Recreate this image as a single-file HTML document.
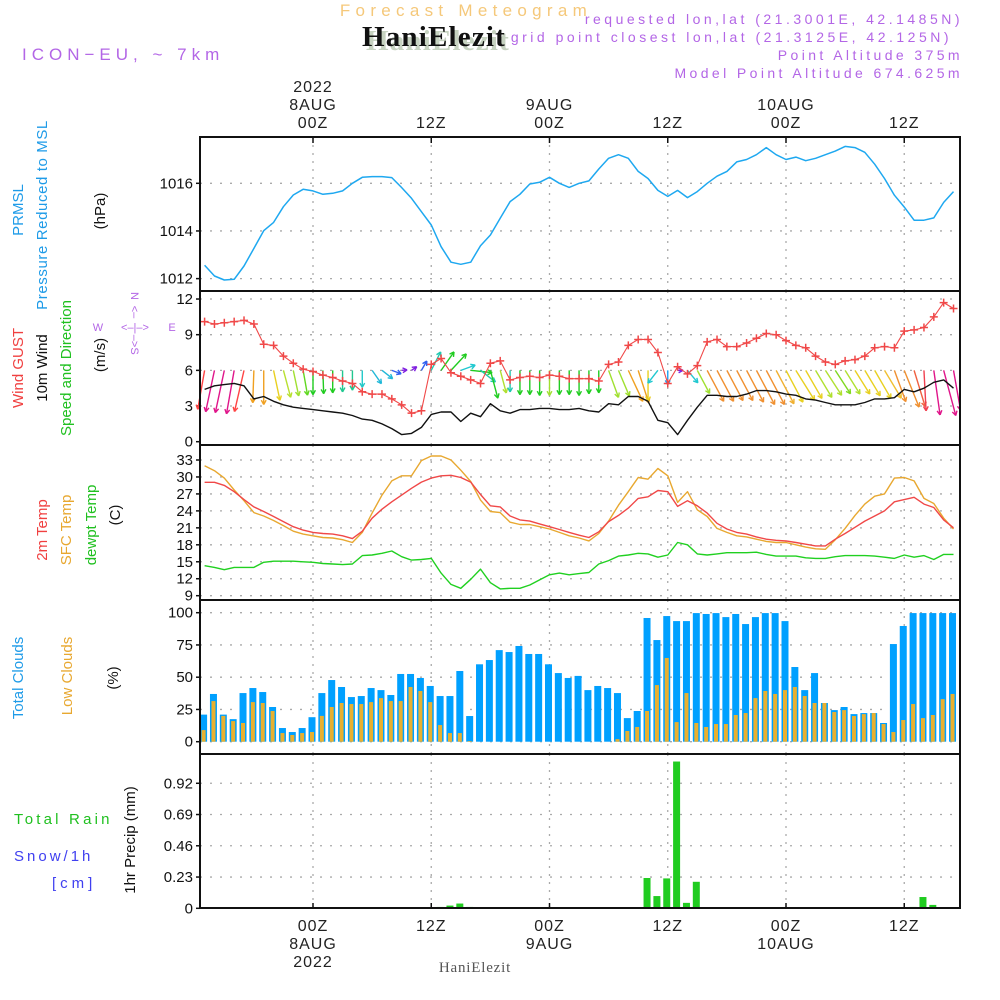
<!DOCTYPE html>
<html><head><meta charset="utf-8"><style>
html,body{margin:0;padding:0;background:#fff;}
svg{display:block;font-family:"Liberation Sans",sans-serif;}
</style></head><body>
<svg id="chart" width="1000" height="1000" viewBox="0 0 1000 1000" xmlns="http://www.w3.org/2000/svg">
<rect x="0" y="0" width="1000" height="1000" fill="#fff"/>
<g id="headers">
<text x="466" y="16" font-size="17" fill="#f5c87a" letter-spacing="5.3" text-anchor="middle">Forecast Meteogram</text>
<text x="438" y="50" font-family="Liberation Serif,serif" font-weight="bold" font-size="29" fill="#c6d2c0" letter-spacing="1.2" text-anchor="middle">HaniElezit</text>
<text x="434" y="46" font-family="Liberation Serif,serif" font-weight="bold" font-size="29" fill="#111" letter-spacing="1.2" text-anchor="middle">HaniElezit</text>
<text x="22" y="60" font-size="17" fill="#b366e6" letter-spacing="5">ICON−EU, ~ 7km</text>
<text x="963" y="24" font-size="14" fill="#b366e6" letter-spacing="3.5" text-anchor="end">requested lon,lat (21.3001E, 42.1485N)</text>
<text x="952" y="42" font-size="14" fill="#b366e6" letter-spacing="3.5" text-anchor="end">grid point closest lon,lat (21.3125E, 42.125N)</text>
<text x="963" y="60" font-size="14" fill="#b366e6" letter-spacing="3.4" text-anchor="end">Point Altitude 375m</text>
<text x="963" y="78" font-size="14" fill="#b366e6" letter-spacing="3.4" text-anchor="end">Model Point Altitude 674.625m</text>
<text x="475" y="972" font-family="Liberation Serif,serif" font-size="15" fill="#555" text-anchor="middle" letter-spacing="0.8">HaniElezit</text>
<text transform="translate(982,700) rotate(-90)" font-family="Liberation Serif,serif" font-size="15" fill="#ddd" text-anchor="middle">by Angel</text>
</g>
<g id="leftLabels" font-size="15">
<text transform="translate(23,210) rotate(-90)" fill="#1e9be8" text-anchor="middle">PRMSL</text>
<text transform="translate(47,215) rotate(-90)" fill="#1e9be8" text-anchor="middle" letter-spacing="0.6">Pressure Reduced to MSL</text>
<text transform="translate(105,211) rotate(-90)" fill="#111" text-anchor="middle">(hPa)</text>
<text transform="translate(23,368) rotate(-90)" fill="#f04040" text-anchor="middle">Wind GUST</text>
<text transform="translate(47,368) rotate(-90)" fill="#111" text-anchor="middle">10m Wind</text>
<text transform="translate(71,368) rotate(-90)" fill="#20c020" text-anchor="middle">Speed and Direction</text>
<text transform="translate(105,355) rotate(-90)" fill="#111" text-anchor="middle">(m/s)</text>
<g fill="#b366e6" font-size="11" text-anchor="middle">
<text x="135" y="300" transform="rotate(90,135,296)">N</text>
<text x="135" y="355" transform="rotate(90,135,351)">S</text>
<text x="98" y="331">W</text>
<text x="172" y="331">E</text>
<text x="135" y="331" font-size="11">&lt;‒|‒&gt;</text>
<text x="135" y="316" transform="rotate(90,135,312)">&lt;‒</text>
<text x="135" y="345" transform="rotate(90,135,341)">‒&gt;</text>
</g>
<text transform="translate(47,530) rotate(-90)" fill="#f04040" text-anchor="middle">2m Temp</text>
<text transform="translate(71,530) rotate(-90)" fill="#e8a830" text-anchor="middle">SFC Temp</text>
<text transform="translate(96,525) rotate(-90)" fill="#20c020" text-anchor="middle">dewpt Temp</text>
<text transform="translate(120,515) rotate(-90)" fill="#111" text-anchor="middle">(C)</text>
<text transform="translate(23,678) rotate(-90)" fill="#1e9be8" text-anchor="middle">Total Clouds</text>
<text transform="translate(72,676) rotate(-90)" fill="#e8a830" text-anchor="middle">Low Clouds</text>
<text transform="translate(118,678) rotate(-90)" fill="#111" text-anchor="middle">(%)</text>
<text x="14" y="824" fill="#20c020" letter-spacing="3.2">Total  Rain</text>
<text x="14" y="861" fill="#4040f0" letter-spacing="3">Snow/1h</text>
<text x="52" y="888" fill="#4040f0" letter-spacing="4">[cm]</text>
<text transform="translate(135,840) rotate(-90)" fill="#111" text-anchor="middle">1hr Precip (mm)</text>
</g>
<g id="plot"></g>
</svg>
<script>
// ---------- data (hourly, hour offsets from 00Z 8AUG) ----------
const hourStart = -11;
const pressure = [1012.56,1012.11,1011.94,1011.97,1012.53,1013.27,1014.01,1014.36,1015.02,1015.51,1015.75,1015.68,1015.54,1015.58,1015.68,1016.0,1016.25,1016.28,1016.28,1016.24,1015.82,1015.37,1014.81,1014.25,1013.34,1012.69,1012.6,1012.69,1013.38,1013.83,1014.53,1015.23,1015.54,1015.97,1016.04,1016.25,1016.0,1015.83,1016.0,1016.1,1016.6,1017.05,1017.2,1017.05,1016.5,1016.2,1015.7,1015.45,1015.7,1015.4,1015.65,1016.0,1016.3,1016.5,1016.9,1017.0,1017.2,1017.5,1017.2,1017.0,1017.1,1016.95,1017.05,1017.2,1017.35,1017.55,1017.5,1017.3,1016.8,1016.2,1015.5,1015.0,1014.45,1014.45,1014.55,1015.2,1015.65];
const windGust = [10.1,9.9,10.0,10.1,10.2,9.9,8.2,8.1,7.2,6.6,6.1,5.9,5.6,5.4,5.1,4.9,4.2,4.0,4.0,3.6,3.1,2.4,2.6,6.5,7.0,5.8,5.5,5.2,4.9,6.6,6.8,5.2,5.4,5.5,5.4,5.6,5.5,5.3,5.3,5.3,5.1,6.5,6.7,8.1,8.6,8.6,7.5,4.9,6.3,5.7,6.4,8.4,8.6,8.0,8.0,8.3,8.7,9.1,9.0,8.5,8.1,7.9,7.2,6.7,6.5,6.8,6.9,7.2,7.9,8.0,7.9,9.3,9.4,9.6,10.5,11.7,11.2];
const windSpeed = [4.4,4.7,4.8,4.9,4.7,3.6,3.8,3.4,3.1,2.9,2.8,2.7,2.6,2.5,2.4,2.2,1.9,1.8,1.5,1.1,0.6,0.7,1.2,2.3,2.5,2.5,1.7,2.4,2.1,3.2,2.6,2.4,2.7,2.7,2.8,2.8,2.7,2.7,2.8,2.6,2.5,3.2,3.1,3.8,3.8,3.4,1.8,1.6,0.6,1.8,2.9,3.9,3.9,3.8,3.8,4.0,4.3,4.3,4.2,4.0,3.9,3.6,3.5,3.3,3.1,3.1,3.1,3.3,3.6,3.6,3.7,4.4,4.2,4.5,5.0,5.2,4.5];
const windToDir = [190,192,192,190,193,182,180,168,165,168,170,180,178,180,180,180,180,145,128,110,85,55,30,27,35,43,70,96,128,165,165,180,180,180,180,180,180,180,180,180,180,160,157,155,162,180,218,180,90,140,152,152,152,152,152,152,152,152,152,152,148,150,149,147,147,148,148,149,150,149,160,158,163,177,172,165,170];
const windColors = ["#f44","#e0158a","#e0158a","#e0158a","#f44","#f0a020","#f0a020","#e8d020","#b8e030","#a0e030","#60d820","#20cc20","#20cc20","#20cc20","#20c890","#20c890","#20c8c8","#20b8d8","#20b8d8","#3060f0","#8020e0","#8020e0","#3060f0","#20c8b0","#20cc20","#20cc20","#20c8d0","#20cc20","#20c8b0","#20cc20","#b0e030","#20c8b0","#20cc20","#20cc20","#20cc20","#a0e030","#20cc20","#20cc20","#20cc20","#20cc20","#20cc20","#a0e030","#a0e030","#f0a020","#f0a020","#e8d020","#20c8d0","#20a0f0","#8020e0","#20c8d0","#a0e030","#f09030","#f09030","#f09030","#f09030","#f09030","#f09030","#f09030","#f0b030","#e8d020","#e8d020","#e8d020","#b0e030","#b0e030","#80d820","#b0e030","#e8d020","#e8d020","#e8d020","#f0c030","#f09030","#f09030","#f06040","#f04050","#e0158a","#e0158a","#e0158a"];
const temp2m = [29.05,29.05,28.5,27.4,26.0,24.7,23.9,23.0,22.1,21.2,20.6,20.2,20.0,19.9,19.6,19.1,20.4,22.7,24.3,25.6,26.8,28.0,29.1,29.8,30.2,30.3,29.9,29.1,26.9,24.9,24.7,23.1,22.4,22.2,21.7,21.2,20.7,20.2,19.7,19.3,20.3,22.1,23.2,24.5,26.2,26.5,27.6,27.4,24.8,25.8,24.9,23.6,21.8,20.8,20.2,19.9,19.4,19.0,18.8,18.7,18.4,18.1,17.8,17.8,19.0,20.0,21.1,22.2,23.1,24.0,25.6,26.0,26.4,25.2,24.6,22.4,21.0];
const tempSfc = [32.0,31.1,29.8,27.7,25.8,23.7,23.1,22.3,21.4,20.4,19.9,19.6,19.3,19.2,18.9,18.4,20.2,23.6,26.8,29.3,30.2,30.2,32.9,33.7,33.7,33.0,31.2,29.2,25.9,23.9,23.7,22.0,21.6,21.6,21.2,20.8,20.2,19.6,19.2,18.7,20.0,22.2,25.0,27.4,29.9,29.6,31.5,30.2,25.5,27.4,24.2,23.0,20.9,20.2,19.6,19.4,19.0,18.6,18.4,18.4,18.0,17.6,17.3,17.2,18.9,20.9,23.2,25.2,26.6,27.0,29.8,29.9,29.3,26.2,25.3,22.7,20.8];
const tempDew = [14.3,14.0,13.6,14.0,14.0,14.0,14.9,15.1,15.1,15.1,15.0,14.9,14.7,14.6,14.5,14.6,16.1,16.2,16.5,16.9,15.9,15.3,15.4,15.6,13.0,11.0,10.3,11.9,13.7,11.3,10.2,10.3,10.3,10.9,11.8,12.7,13.0,12.7,12.9,13.1,14.6,15.2,16.0,16.2,16.5,16.4,15.8,16.2,18.4,18.0,16.4,16.2,16.4,16.6,16.6,16.6,16.7,16.3,16.0,16.0,16.0,15.7,15.6,15.6,15.9,16.1,16.1,16.1,16.0,15.8,15.6,16.2,15.8,16.1,15.4,16.3,16.3];
const totalClouds = [21,37,21,17.5,37.7,41.6,38.5,26.9,10.6,7.5,10.6,19,37.7,47.8,42.4,34.6,35.4,41.6,40,36.2,52.5,52.5,49.4,43.2,35.4,35.4,54.8,19.9,60,63.3,71,69.5,74.2,68,68,60,53.2,49.4,51,40,43.2,41.6,37.7,18.3,23.8,95.9,78.8,97.4,93.5,93.5,99.7,99,99.7,96.6,99,91.2,96.6,99.7,99.7,93.5,57.9,40,53.2,30,24.5,26.9,21.4,22.2,22.2,14.5,75.7,89.7,99.7,99.7,99.7,99.7,99.7];
const lowClouds = [9,31.5,20,16,14.5,30.7,30,23.8,6.7,5.2,6.7,7.5,20,26.9,30,29.2,29.2,30.7,33.8,31.5,31.5,42.4,39.3,30.7,12.9,6.7,6.7,0.5,0,0,0,0,0,0,0,0,0,0,0,0,0,0,2,8.3,11.4,23.8,43.9,64.9,15.2,37.7,14.5,11.4,13.7,13.7,20.7,22.2,33.8,39.3,37,40,42.4,35.4,30,30,23,24.5,19.9,21.4,22.2,13.7,7.5,16.8,29.2,18.3,20.7,33,37];
const precipHours = [13,14,15,16,34,35,36,37,38,39,61,62,63];
const precipValues = [0.01,0.02,0.035,0.01,0.223,0.09,0.22,1.08,0.04,0.195,0.01,0.083,0.025];
const pressureTicks = [1012,1014,1016];
const windTicks = [0,3,6,9,12];
const tempTicks = [9,12,15,18,21,24,27,30,33];
const cloudTicks = [0,25,50,75,100];
const precipTicks = [0,0.23,0.46,0.69,0.92];
const precipTickLabels = ["0","0.23","0.46","0.69","0.92"];
const timeTickHours = [0,12,24,36,48,60];
const topTimeLabels = [["2022","8AUG","00Z"],["12Z"],["9AUG","00Z"],["12Z"],["10AUG","00Z"],["12Z"]];
const bottomTimeLabels = [["00Z","8AUG","2022"],["12Z"],["00Z","9AUG"],["12Z"],["00Z","10AUG"],["12Z"]];

// ---------- scales ----------
const X0 = 200, X1 = 960;
const X = h => 313 + h * (473/48);
const panels = [
  {top:137,bottom:291},{top:291,bottom:445},{top:445,bottom:600},{top:600,bottom:754},{top:754,bottom:908}
];
const Yp = v => 183.3 - (v-1016)*23.83;
const Yw = v => 441.7 - v*11.89;
const Yt = v => 460 - (v-33)*5.654;
const Yc = v => 741.7 - v*1.29;
const Yr = v => 908.3 - v*135.9;

const NS = "http://www.w3.org/2000/svg";
const plot = document.getElementById('plot');
function mk(tag, attrs, parent){
  const e = document.createElementNS(NS, tag);
  for (const k in attrs) e.setAttribute(k, attrs[k]);
  (parent||plot).appendChild(e);
  return e;
}
const hourOf = i => hourStart + i;

function hgrid(ticks, Y, name){
  ticks.forEach(t => {
    const l = mk('line',{x1:X0,x2:X1,y1:Y(t),y2:Y(t),stroke:'#aaa','stroke-width':1.3,'stroke-dasharray':'2,8'});
    
    
  });
}
hgrid(pressureTicks,Yp,'pressure'); hgrid(windTicks.slice(1),Yw,'wind'); hgrid(tempTicks,Yt,'temp');
hgrid(cloudTicks,Yc,'cloud'); hgrid(precipTicks.slice(1),Yr,'precip');
panels.forEach(p => timeTickHours.forEach(h => {
  const l = mk('line',{x1:X(h),x2:X(h),y1:p.top,y2:p.bottom,stroke:'#aaa','stroke-width':1.3,'stroke-dasharray':'2,6'});
  
  
}));

function ylabels(ticks, Y, labels, name){
  ticks.forEach((t,i) => {
    const tx = mk('text',{x:193,y:Y(t)+5,'font-size':15,fill:'#111','text-anchor':'end'});
    tx.textContent = labels ? labels[i] : String(t);
    
    
    mk('line',{x1:196,x2:200,y1:Y(t),y2:Y(t),stroke:'#111','stroke-width':1.5});
  });
}
ylabels(pressureTicks,Yp,null,'pressure'); ylabels(windTicks,Yw,null,'wind'); ylabels(tempTicks,Yt,null,'temp');
ylabels(cloudTicks,Yc,null,'cloud'); ylabels(precipTicks,Yr,precipTickLabels,'precip');

timeTickHours.forEach((h,i) => {
  const top = topTimeLabels[i];
  top.forEach((s,j) => {
    const t = mk('text',{x:X(h),y:128-(top.length-1-j)*18,'font-size':16,fill:'#222','text-anchor':'middle','letter-spacing':1});
    t.textContent = s;
    
    
  });
  bottomTimeLabels[i].forEach((s,j) => {
    const t = mk('text',{x:X(h),y:931+j*18,'font-size':16,fill:'#222','text-anchor':'middle','letter-spacing':1});
    t.textContent = s;
    
    
  });
  mk('line',{x1:X(h),x2:X(h),y1:137,y2:143,stroke:'#111','stroke-width':1.5});
  mk('line',{x1:X(h),x2:X(h),y1:903,y2:909,stroke:'#111','stroke-width':1.5});
});

totalClouds.forEach((v,i) => {
  const cx = X(hourOf(i)) - 1;
  const b = mk('rect',{x:Math.max(X0,cx-3.5),y:Yc(v),width:cx+3.5-Math.max(X0,cx-3.5),height:Yc(0)-Yc(v),fill:'#00a0ff'});
  
  
  const o = lowClouds[i];
  if (o > 0){
    const r = mk('rect',{x:Math.max(X0,cx-2),y:Yc(o),width:cx+2-Math.max(X0,cx-2),height:Yc(0)-Yc(o),fill:'#e8b030'});
    
    
  }
});

precipHours.forEach((h,i) => {
  const cx = X(h) - 1, v = precipValues[i];
  const b = mk('rect',{x:cx-3.5,y:Yr(v),width:7,height:Yr(0)-Yr(v),fill:'#20cc20'});
  
  
});

function line(arr, Y, color, name, w){
  const pts = arr.map((v,i) => X(hourOf(i)).toFixed(1)+','+Y(v).toFixed(1)).join(' ');
  const p = mk('polyline',{points:pts,fill:'none',stroke:color,'stroke-width':w||1.4,'stroke-linejoin':'round'});
  
  
}
line(pressure,Yp,'#1ea8f0','pressure-line',1.5);
line(tempSfc,Yt,'#e8a830','sfc-temp-line');
line(temp2m,Yt,'#f04848','temp-2m-line');
line(tempDew,Yt,'#20d020','dewpoint-line');

windToDir.forEach((d,i) => {
  const x0 = X(hourOf(i)), y0 = Yw(6);
  const len = 9 * windSpeed[i];
  const a = d * Math.PI/180;
  const x1 = x0 + Math.sin(a)*len, y1 = y0 - Math.cos(a)*len;
  const g = mk('g',{stroke:windColors[i],'stroke-width':1.4,fill:'none'});
  
  
  mk('line',{x1:x0,y1:y0,x2:x1,y2:y1},g);
  const hs = 5, spread = 0.5;
  [a+Math.PI-spread, a+Math.PI+spread].forEach(b => {
    mk('line',{x1:x1,y1:y1,x2:x1+Math.sin(b)*hs,y2:y1-Math.cos(b)*hs},g);
  });
});
line(windSpeed,Yw,'#111','wind-speed-line',1.4);
line(windGust,Yw,'#f04848','wind-gust-line',1.1);
windGust.forEach((v,i) => {
  const x = X(hourOf(i)), y = Yw(v);
  const m = mk('path',{d:`M${x-4},${y}H${x+4}M${x},${y-4}V${y+4}`,stroke:'#f04848','stroke-width':1.5});
  
  
});

mk('rect',{x:960.9,y:130,width:39,height:790,fill:'#fff'});
panels.forEach(p => {
  const r = mk('rect',{x:X0,y:p.top,width:X1-X0,height:p.bottom-p.top,fill:'none',stroke:'#111','stroke-width':2});
  
  
});
</script>
</body></html>
